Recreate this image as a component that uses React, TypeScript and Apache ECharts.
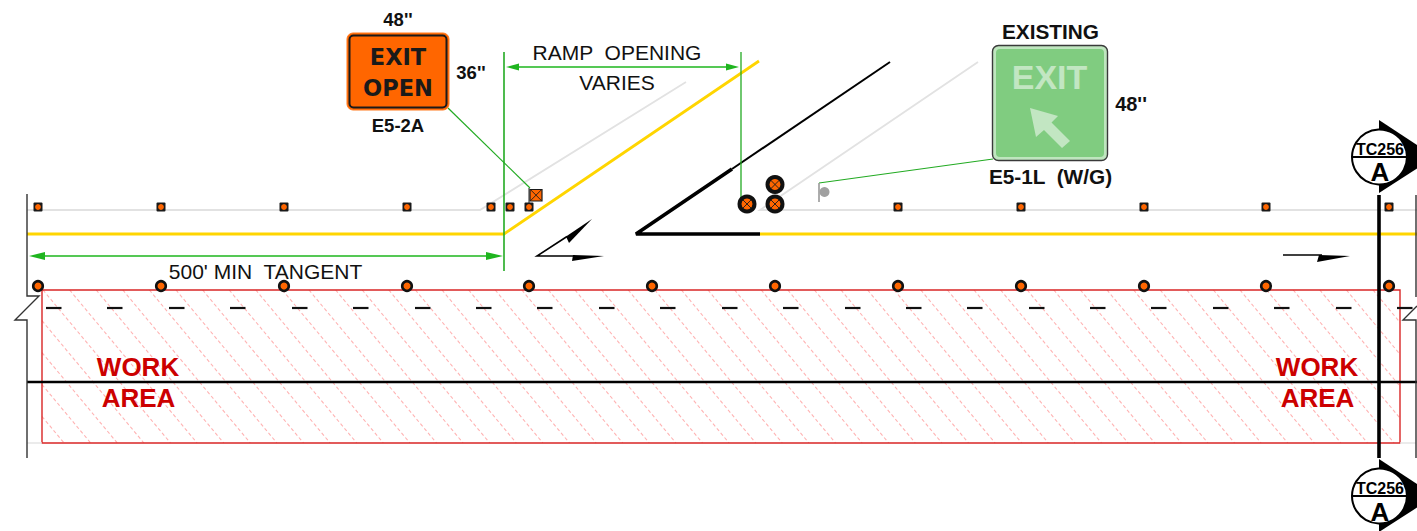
import React, { useEffect, useRef } from "react";
import * as echarts from "echarts";

type Pt = [number, number];

// Roadway geometry (drawing coordinates, one unit = one pixel of the plan)
const edgeLeft: Pt[] = [[27, 194], [27, 296], [39, 296], [15, 320], [27, 320], [27, 458]];
const edgeRight: Pt[] = [[1416, 195], [1416, 297]];
const edgeRightLow: Pt[] = [[1417, 306], [1403, 320], [1416, 320], [1416, 458]];
const greyEdgeA: Pt[] = [[27, 210], [480, 210], [686, 82]];
const greyEdgeB: Pt[] = [[978, 62], [760, 210], [1417, 210]];
const greyFootA: Pt[] = [[27, 443], [42, 443]];
const greyFootB: Pt[] = [[1400, 443], [1416, 443]];
const yellowMain: Pt[] = [[27, 234], [504, 234], [759, 61]];
const yellowRight: Pt[] = [[760, 234], [1417, 234]];
const goreThick: Pt[] = [[732, 169], [636, 234], [760, 234]];
const goreThin: Pt[] = [[732, 169], [890, 62]];
const centerLine: Pt[] = [[27, 382], [1417, 382]];
const sectionLine: Pt[] = [[1379, 195], [1379, 458]];

// Dimension and leader lines
const dimVertA: Pt[] = [[504, 52], [504, 271]];
const dimVertB: Pt[] = [[741, 52], [741, 200]];
const dimRamp: Pt[] = [[515, 67], [730, 67]];
const dimTangent: Pt[] = [[42, 256], [490, 256]];
const leaderOrange: Pt[] = [[448, 108], [530, 188]];
const leaderGreen: Pt[] = [[819, 183], [993, 159]];
const arrowHeads: Pt[][] = [
  [[506, 67], [519, 63.5], [519, 70.5]],
  [[739, 67], [726, 63.5], [726, 70.5]],
  [[29, 256], [45, 252], [45, 260]],
  [[503, 256], [486, 252], [486, 260]],
];

// Devices along the roadway
const channelizerX = [38, 161, 284, 407, 491, 510, 529, 898, 1021, 1144, 1266, 1389];
const drumX = [38, 161, 284, 407, 529, 652, 775, 898, 1021, 1144, 1266, 1389];
const crossedDrums: Pt[] = [[747, 204], [775, 204], [775, 184.5]];
const skipDashStarts = [46, 107, 169, 230, 292, 353, 415, 476, 537, 599, 660, 722, 783, 845, 906, 967, 1029, 1090, 1151, 1213, 1274, 1336, 1397];
const hatchTopCrossings = [-63.4, -36.8, -10.2, 16.4, 43, 69.6, 96.2, 122.8, 149.4, 176, 202.6, 229.2, 255.8, 282.4, 309, 335.6, 362.2, 388.8, 415.4, 442, 468.6, 495.2, 521.8, 548.4, 575, 601.6, 628.2, 654.8, 681.4, 708, 734.6, 761.2, 787.8, 814.4, 841, 867.6, 894.2, 920.8, 947.4, 974, 1000.6, 1027.2, 1053.8, 1080.4, 1107, 1133.6, 1160.2, 1186.8, 1213.4, 1240, 1266.6, 1293.2, 1319.8, 1346.4, 1373, 1399.6];

// Travel arrows
const turnArrowLines: Pt[] = [[567, 236.5], [537, 256], [575, 256]];
const turnArrowHeads: Pt[][] = [
  [[566, 236.5], [592, 219], [569, 243]],
  [[573, 255], [604, 256], [572, 261]],
];
const thruArrowLine: Pt[] = [[1283, 255], [1322, 255]];
const thruArrowHead: Pt[] = [[1319, 255], [1350, 256], [1317, 262]];

// Signs and section markers
const signArrow: Pt[] = [[1030, 108], [1058, 116], [1051.5, 122.5], [1070, 141], [1062, 148], [1044, 130], [1036, 137]];
const sectionTriTop: Pt[] = [[1379, 120], [1435, 157], [1379, 193]];
const sectionTriBottom: Pt[] = [[1379, 459], [1435, 496], [1379, 532]];
const sectionCentres: Pt[] = [[1379.5, 157], [1379.5, 496]];

// Texts
const dimTexts: [number, number, string][] = [[617, 52, "RAMP  OPENING"], [617, 82.5, "VARIES"], [265.5, 271, "500' MIN  TANGENT"]];
const sizeTextsA: [number, number, string][] = [[398, 19, "48''"], [471, 72, "36''"], [398, 125, "E5-2A"]];
const sizeTextsB: [number, number, string][] = [[1050.5, 31, "EXISTING"], [1050.5, 176.5, "E5-1L  (W/G)"]];
const sizeTextsC: [number, number, string][] = [[1131, 104, "48''"]];
const workTexts: [number, number, string][] = [[138, 367, "WORK"], [138.5, 398, "AREA"], [1317, 367, "WORK"], [1317.5, 398, "AREA"]];
const orangeSignTexts: [number, number, string][] = [[398, 56.5, "EXIT"], [398, 87.5, "OPEN"]];
const greenSignTexts: [number, number, string][] = [[1049.5, 77, "EXIT"]];
const sectionRefTexts: [number, number, string][] = [[1380, 149.5, "TC256"], [1380, 488, "TC256"]];
const sectionLetterTexts: [number, number, string][] = [[1380, 172, "A"], [1380, 512, "A"]];

const SANS = '"Liberation Sans", Arial, sans-serif';

const line = (data: Pt[], color: string, width: number, extra: any = {}) => ({
  type: "line",
  data,
  silent: true,
  symbol: "none",
  showSymbol: false,
  animation: false,
  lineStyle: { color, width, cap: "butt", join: "miter", ...extra },
});

const polygons = (shapes: Pt[][], fill: string) => ({
  type: "custom",
  silent: true,
  clip: false,
  data: shapes.map((_, i) => [i, i]),
  renderItem: (p: any, api: any) => ({
    type: "polygon",
    shape: { points: shapes[p.dataIndex].map((q) => api.coord(q)) },
    style: { fill },
  }),
});

const texts = (items: [number, number, string][], fontSize: number, fontWeight: any, fill: string, fontFamily = SANS) => ({
  type: "custom",
  silent: true,
  clip: false,
  data: items.map((t) => [t[0], t[1]]),
  renderItem: (p: any, api: any) => {
    const it = items[p.dataIndex];
    const c = api.coord([it[0], it[1]]);
    return {
      type: "text",
      x: c[0],
      y: c[1],
      style: { text: it[2], fill, fontFamily, fontSize, fontWeight, align: "center", verticalAlign: "middle" },
    };
  },
});

const box = (x0: number, y0: number, x1: number, y1: number, r: number, style: any) => ({
  type: "custom",
  silent: true,
  clip: false,
  data: [[x0, y0]],
  renderItem: (_: any, api: any) => {
    const a = api.coord([x0, y0]);
    const b = api.coord([x1, y1]);
    return { type: "rect", shape: { x: a[0], y: a[1], width: b[0] - a[0], height: b[1] - a[1], r }, style };
  },
});

const crossChildren = (c: number[], half: number, width: number) =>
  [1, -1].map((s) => ({
    type: "line",
    shape: { x1: c[0] - half, y1: c[1] - half * s, x2: c[0] + half, y2: c[1] + half * s },
    style: { stroke: "#1a1a1a", lineWidth: width },
  }));

// Square channelizer: dark square, orange dot
const squareDevices = (xs: number[], y: number) => ({
  type: "custom",
  silent: true,
  clip: false,
  data: xs.map((x) => [x, y]),
  renderItem: (p: any, api: any) => {
    const c = api.coord([xs[p.dataIndex], y]);
    return {
      type: "group",
      children: [
        { type: "rect", shape: { x: c[0] - 4.5, y: c[1] - 4.5, width: 9, height: 9, r: 1 }, style: { fill: "#1a1a1a" } },
        { type: "circle", shape: { cx: c[0], cy: c[1], r: 2.9 }, style: { fill: ORANGE } },
      ],
    };
  },
});

const circleDevices = (centres: Pt[], r: number, lineWidth: number, crossHalf: number) => ({
  type: "custom",
  silent: true,
  clip: false,
  data: centres,
  renderItem: (p: any, api: any) => {
    const c = api.coord(centres[p.dataIndex]);
    const children: any[] = [
      { type: "circle", shape: { cx: c[0], cy: c[1], r }, style: { fill: ORANGE, stroke: "#111111", lineWidth } },
    ];
    if (crossHalf > 0) children.push(...crossChildren(c, crossHalf, 0.9));
    return { type: "group", children };
  },
});

const hatch = {
  type: "custom",
  silent: true,
  clip: false,
  data: hatchTopCrossings.map((x) => [x, 290]),
  renderItem: (p: any, api: any) => {
    const x0 = hatchTopCrossings[p.dataIndex];
    const slope = 1.2;
    const [yTop, yBot, xL, xR] = [290, 443, 42, 1400];
    let ax = x0, ay = yTop;
    let bx = x0 + (yBot - yTop) / slope, by = yBot;
    if (ax < xL) { ay = yTop + (xL - x0) * slope; ax = xL; }
    if (bx > xR) { by = yTop + (xR - x0) * slope; bx = xR; }
    const a = api.coord([ax, ay]);
    const b = api.coord([bx, by]);
    return {
      type: "line",
      shape: { x1: a[0], y1: a[1], x2: b[0], y2: b[1] },
      style: { stroke: "#ffb3b3", lineWidth: 1.1, lineDash: [3.5, 2.5] },
    };
  },
};

const circles = (centres: Pt[], r: number, fill: string, stroke: string, lineWidth: number) => ({
  type: "custom",
  silent: true,
  clip: false,
  data: centres,
  renderItem: (p: any, api: any) => {
    const c = api.coord(centres[p.dataIndex]);
    return { type: "circle", shape: { cx: c[0], cy: c[1], r }, style: { fill, stroke, lineWidth } };
  },
});

const ORANGE = "#ff6600";
const GREEN_DARK = "#22aa22";
const GREEN_LIGHT = "#55c855";
const YELLOW = "#ffd500";

function buildOption() {
  const sectionBars: Pt[][] = sectionCentres.map((c) => [[c[0] - 27, c[1]], [c[0] + 27, c[1]]]);
  const series: any[] = [
    hatch,
    box(42, 290, 1400, 443, 0, { fill: "none", stroke: "#d92626", lineWidth: 1.4 }),
    line(greyEdgeA, "#e2e2e2", 1.8),
    line(greyEdgeB, "#e2e2e2", 1.8),
    line(greyFootA, "#e2e2e2", 1.4),
    line(greyFootB, "#e2e2e2", 1.4),
    line(yellowMain, YELLOW, 2.8),
    line(yellowRight, YELLOW, 2.8),
    line(centerLine, "#000000", 2.6),
    line(edgeLeft, "#333333", 1.4),
    line(edgeRight, "#333333", 1.4),
    line(edgeRightLow, "#333333", 1.4),
    ...skipDashStarts.map((x) => line([[x, 308], [x + 15.5, 308]], "#111111", 2.2)),
    line(goreThick, "#000000", 3.6, { join: "bevel" }),
    line(goreThin, "#000000", 2),
    line(turnArrowLines, "#000000", 1.6),
    line(thruArrowLine, "#000000", 1.6),
    polygons(turnArrowHeads, "#000000"),
    polygons([thruArrowHead], "#000000"),
    line(dimVertA, GREEN_DARK, 1.6),
    line(dimVertB, GREEN_DARK, 1.3),
    line(dimRamp, GREEN_LIGHT, 2),
    line(dimTangent, GREEN_LIGHT, 2),
    polygons(arrowHeads, "#1fb51f"),
    line(leaderOrange, GREEN_DARK, 1.2),
    line(leaderGreen, GREEN_DARK, 1.2),
    line([[529, 188], [529, 205]], "#222222", 1),
    squareDevices(channelizerX, 207),
    circleDevices(drumX.map((x) => [x, 286] as Pt), 4.8, 2.6, 0),
    box(530, 189.5, 542, 201, 0, { fill: ORANGE, stroke: "#1a1a1a", lineWidth: 1.2 }),
    {
      type: "custom",
      silent: true,
      clip: false,
      data: [[536, 195.2]],
      renderItem: (_: any, api: any) => ({
        type: "group",
        children: crossChildren(api.coord([536, 195.2]), 5.5, 0.9),
      }),
    },
    circleDevices(crossedDrums, 7.5, 4, 4),
    line([[819, 183], [819, 202]], "#999999", 1.6),
    circles([[824.5, 192]], 5, "#a0a0a0", "none", 0),
    line(sectionLine, "#000000", 3.6),
    // Orange construction sign
    box(347, 33, 449, 110, 6, { fill: ORANGE, stroke: "#ff7a1f", lineWidth: 1 }),
    box(349.5, 35.5, 446.5, 107.5, 4, { fill: "none", stroke: "#1a1a1a", lineWidth: 2 }),
    texts(orangeSignTexts, 22.5, "bold", "#1a1a1a", '"DejaVu Sans", sans-serif'),
    // Existing guide sign
    box(992.5, 45.5, 1107.5, 160.5, 6, { fill: "#bfe5bf", stroke: "#3a3a3a", lineWidth: 1.4 }),
    box(996, 49, 1104, 157, 4, { fill: "#80cc80" }),
    texts(greenSignTexts, 34, "bold", "#c2e6c2"),
    polygons([signArrow], "#c2e6c2"),
    // Section markers
    polygons([sectionTriTop, sectionTriBottom], "#000000"),
    circles(sectionCentres, 27.5, "#ffffff", "#000000", 2),
    ...sectionBars.map((b) => line(b, "#000000", 2.2)),
    texts(sectionRefTexts, 16, "bold", "#000000"),
    texts(sectionLetterTexts, 26, "bold", "#000000"),
    // Notes
    texts(dimTexts, 21, "normal", "#111111"),
    texts(sizeTextsA, 18.5, "bold", "#111111"),
    texts(sizeTextsB, 20.8, "bold", "#111111"),
    texts(sizeTextsC, 20, "bold", "#111111"),
    texts(workTexts, 26, "bold", "#cc0000"),
  ];
  // Paint strictly in the order listed (line series otherwise float above custom ones)
  series.forEach((s, i) => { s.z = i + 1; });
  return {
    animation: false,
    backgroundColor: "#ffffff",
    grid: { left: 0, right: 0, top: 0, bottom: 0 },
    xAxis: { type: "value", min: 0, max: 1417, show: false },
    yAxis: { type: "value", min: 0, max: 531, inverse: true, show: false },
    tooltip: { show: false },
    series,
  };
}

export default function App() {
  const ref = useRef<HTMLDivElement>(null);
  useEffect(() => {
    const chart = echarts.init(ref.current!, undefined, { renderer: "svg" });
    chart.setOption(buildOption() as any);
    return () => chart.dispose();
  }, []);
  return <div ref={ref} style={{ position: "absolute", left: 0, top: 0, width: 1417, height: 531 }} />;
}
